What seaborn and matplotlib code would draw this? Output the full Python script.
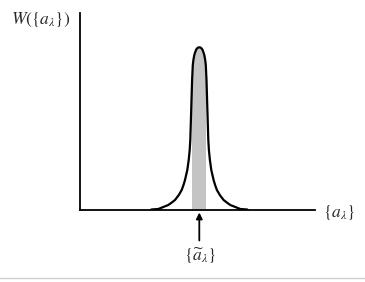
import numpy as np
import pandas as pd
import matplotlib
matplotlib.use("Agg")
import matplotlib.pyplot as plt
import seaborn as sns
from matplotlib.patches import Rectangle

# ---- data (x: position along {a_lambda}, y: W) ----
peak_x = 119.3
# half-profile: offsets from the peak centre and heights
offsets = [0.0, 1.0, 1.8, 2.5, 3.3, 4.2, 5.0, 5.9, 6.5, 7.2, 8.0, 9.0, 9.6, 10.6,
           12.0, 14.3, 15.8, 17.6, 20.5, 24.3, 27.5, 31.0, 36.0, 41.0, 48.0]
heights = [162.2, 162.0, 161.5, 160.8, 159.5, 157.0, 154.5, 149.5, 144.5, 129.5,
           102.5, 69.5, 59.5, 49.5, 39.5, 29.5, 24.5, 19.5, 14.5, 9.5, 7.0, 4.5,
           2.5, 0.5, 0.0]
band_left = 112.0
band_right = 126.0
x_max = 235.0
y_max = 196.5
axis_label_y = r"$W(\{a_\lambda\})$"
axis_label_x = r"$\{a_\lambda\}$"
peak_label = r"$\{\widetilde{a}_\lambda\}$"

xs = [peak_x - d for d in offsets[::-1]] + [peak_x + d for d in offsets[1:]]
ys = heights[::-1] + heights[1:]
df = pd.DataFrame({"x": xs, "y": ys})

sns.set_theme(style="white")
plt.rcParams["mathtext.fontset"] = "stix"
plt.rcParams["font.family"] = ["DejaVu Serif"]

fig = plt.figure(figsize=(3.65, 2.82), dpi=100)
ax = fig.add_axes([80 / 365, 1 - 209.5 / 282, 235 / 365, (209.5 - 13) / 282])

poly = ax.fill(df["x"], df["y"], color="#c4c4c4", lw=0, zorder=1)[0]
clip = Rectangle((band_left, -5), band_right - band_left, 300, transform=ax.transData)
poly.set_clip_path(clip)

sns.lineplot(data=df, x="x", y="y", ax=ax, color="black", lw=1.6, sort=False,
             estimator=None, zorder=3)
for line in ax.lines:
    line.set_solid_joinstyle("round")

ax.set_xlim(0, x_max)
ax.set_ylim(0, y_max)
ax.set_xticks([])
ax.set_yticks([])
ax.set_xlabel("")
ax.set_ylabel("")
for s in ["top", "right"]:
    ax.spines[s].set_visible(False)
for s in ["left", "bottom"]:
    ax.spines[s].set_color("black")
    ax.spines[s].set_linewidth(1.3)
ax.patch.set_alpha(0)

fig.text(11 / 365, 1 - 20 / 282, axis_label_y, fontsize=12.5, ha="left", va="center")
fig.text(323 / 365, 1 - 212 / 282, axis_label_x, fontsize=12.5, ha="left", va="center")
fig.text(200 / 365, 1 - 256 / 282, peak_label, fontsize=12.5, ha="center", va="center")

ax.annotate("", xy=(peak_x, -3), xycoords="data",
            xytext=(peak_x, -31), textcoords="data",
            arrowprops=dict(arrowstyle="-|>", color="black", lw=1.3,
                            mutation_scale=9, shrinkA=0, shrinkB=0),
            annotation_clip=False)

fig.add_artist(plt.Line2D([0, 1], [1 - 278 / 282] * 2, transform=fig.transFigure,
                          color="#d0d0d0", lw=1))

fig.savefig("out.png", dpi=100)
